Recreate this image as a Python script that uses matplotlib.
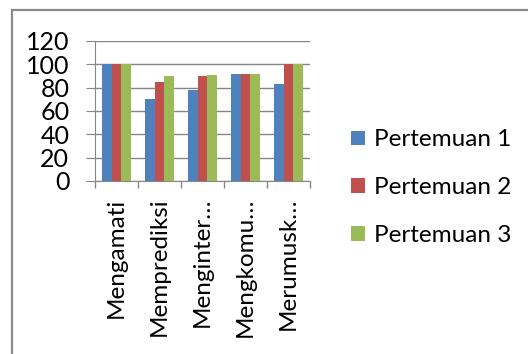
import numpy as np
import matplotlib.pyplot as plt
from matplotlib.patches import Rectangle

# nilai per aspek untuk tiap pertemuan
aspek = ['Mengamati', 'Memprediksi', 'Menginter…', 'Mengkomu…', 'Merumusk…']
pertemuan_1 = [100, 70, 78, 92, 83]
pertemuan_2 = [100, 85, 90, 92, 100]
pertemuan_3 = [100, 90, 91, 92, 100]
seri = ['Pertemuan 1', 'Pertemuan 2', 'Pertemuan 3']
warna = ['#4F81BD', '#C0504D', '#9BBB59']

plt.rcParams['font.family'] = ['Lato', 'DejaVu Sans']

fig = plt.figure(figsize=(5.28, 3.54), dpi=100)
ax = fig.add_axes([95 / 528, 1 - 181 / 354, 215 / 528, 140 / 354])

# bingkai luar
fig.patches.append(Rectangle((12 / 528, -0.1), 1.2, 1 - 10 / 354 + 0.1,
                             transform=fig.transFigure, fill=False,
                             edgecolor='#8a8a8a', linewidth=1.6))

x = np.arange(len(aspek))
lebar = 0.222
for i, (nilai, nama, c) in enumerate(zip([pertemuan_1, pertemuan_2, pertemuan_3], seri, warna)):
    ax.bar(x + (i - 1) * lebar, nilai, lebar, color=c, label=nama, zorder=3)

ax.set_xlim(-0.5, len(aspek) - 0.5)
ax.set_ylim(0, 120)
ax.set_yticks(range(0, 121, 20))
ax.grid(axis='y', color='#868686', linewidth=1, zorder=0)

ax.set_xticks(x)
ax.set_xticklabels(aspek, rotation=90, fontsize=17.5)
ax.set_xticks(np.arange(-0.5, len(aspek)), minor=True)
ax.tick_params(axis='x', which='major', length=0, pad=12)
ax.tick_params(axis='x', which='minor', length=5, color='#868686', width=1)
ax.tick_params(axis='y', labelsize=18, length=6.5, color='#868686', pad=12)

for s in ['top', 'right']:
    ax.spines[s].set_visible(False)
for s in ['left', 'bottom']:
    ax.spines[s].set_color('#868686')

ax.legend(loc='center left', bbox_to_anchor=(1.09, -0.048), frameon=False,
          fontsize=17.5, handlelength=0.55, handleheight=0.55, handletextpad=0.4,
          labelspacing=1.1)

fig.savefig('out.png')
